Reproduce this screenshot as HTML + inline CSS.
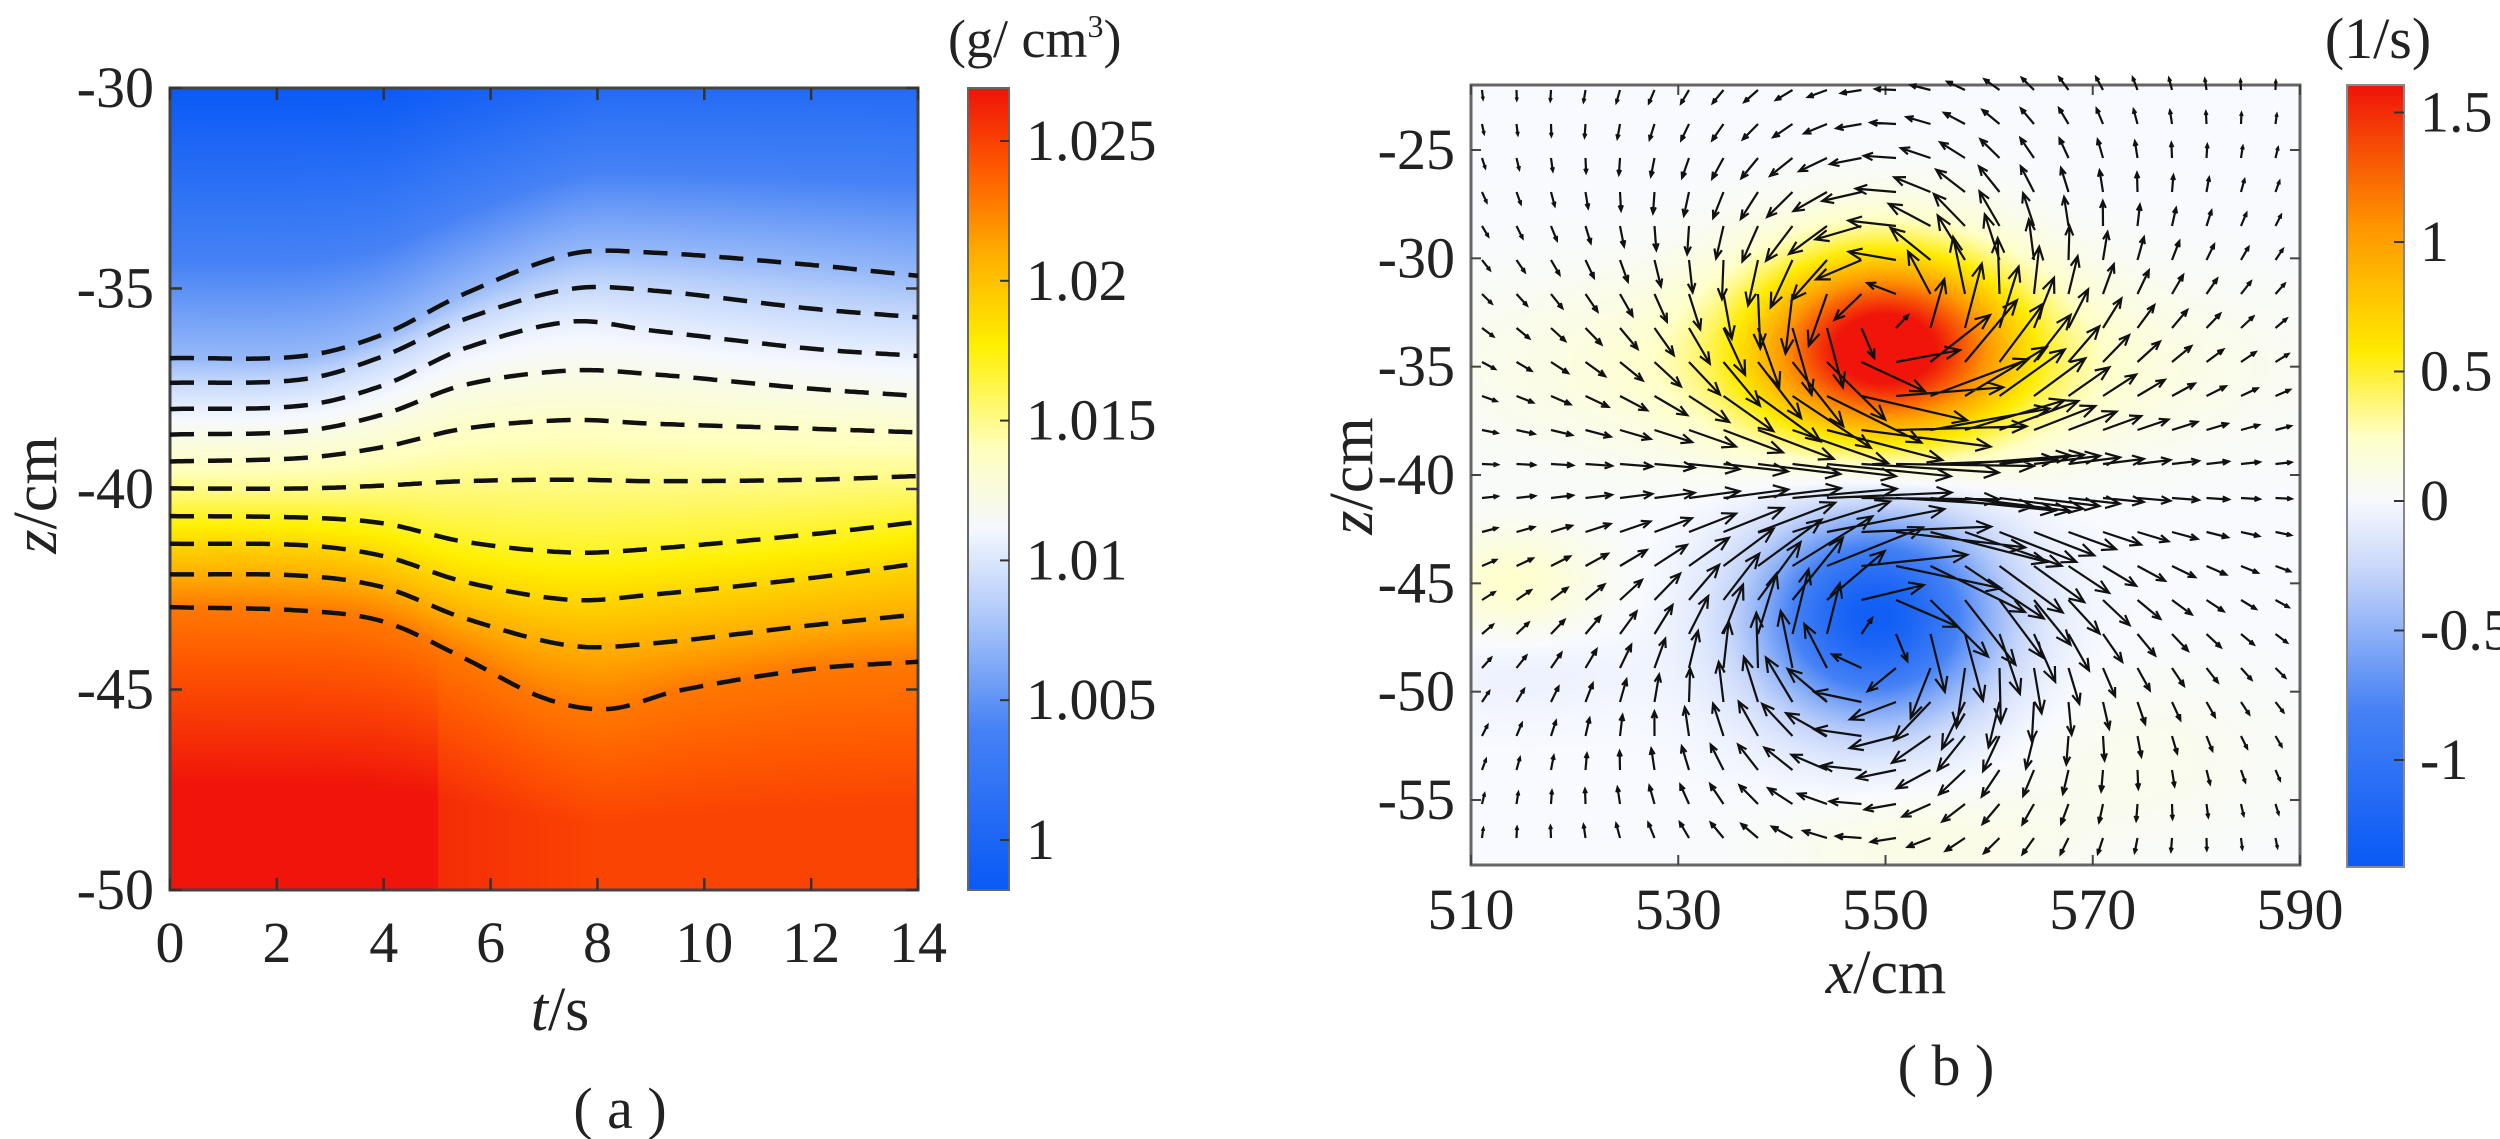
<!DOCTYPE html>
<html><head><meta charset="utf-8">
<style>
html,body{margin:0;padding:0;background:#fff;}
body{width:2500px;height:1139px;position:relative;overflow:hidden;font-family:"Liberation Serif",serif;color:#222;}
canvas{position:absolute;}
svg{position:absolute;left:0;top:0;}
svg text{font-family:"Liberation Serif",serif;fill:#222;}
</style></head><body>
<canvas id="c1" width="748" height="802" style="left:170px;top:88px"></canvas>
<canvas id="cb1" width="41" height="802" style="left:968px;top:88px"></canvas>
<canvas id="c2" width="829" height="780" style="left:1471px;top:85px"></canvas>
<canvas id="cb2" width="57" height="782" style="left:2347px;top:85px"></canvas>
<svg id="s" width="2500" height="1139" xmlns="http://www.w3.org/2000/svg"></svg>
<script>
function cmap(s,stops){s=Math.max(0,Math.min(1,s));for(let i=1;i<stops.length;i++){if(s<=stops[i][0]){const a=stops[i-1],b=stops[i];const f=(s-a[0])/(b[0]-a[0]);return [a[1]+(b[1]-a[1])*f,a[2]+(b[2]-a[2])*f,a[3]+(b[3]-a[3])*f];}}const l=stops[stops.length-1];return [l[1],l[2],l[3]];}
const ST1=[[0,10,90,245],[0.2,70,130,245],[0.35,180,205,250],[0.45,245,248,255],[0.55,255,255,190],[0.68,255,240,0],[0.8,255,170,0],[0.9,255,90,0],[1,240,20,10]];
const ST2=[[0,10,90,245],[0.2,70,130,245],[0.38,200,215,250],[0.47,248,250,255],[0.55,255,255,200],[0.66,255,235,0],[0.82,255,150,0],[1,240,20,10]];
const T=[0,2.5,4,5.5,7.5,9,12,14];
const L=[[493,490,460,405,350,348,365,380],[527,522,490,440,398,400,425,437],[563,558,530,480,443,455,480,490],[598,593,570,530,510,515,535,545],[635,630,615,590,578,583,590,595],[672,672,668,662,660,662,660,655],[710,712,720,745,760,755,735,718],[748,750,765,800,825,818,795,775],[790,792,808,850,888,885,860,845]];
const L10T=[0,2.5,4,5.5,7,8.2,9.5,12,14],L10=[835,840,855,905,960,975,950,920,910];
function herm(xs,ys,x){let n=xs.length;if(x<=xs[0])return ys[0];if(x>=xs[n-1])return ys[n-1];let i=0;while(x>xs[i+1])i++;const m=k=>k==0?(ys[1]-ys[0])/(xs[1]-xs[0]):k==n-1?(ys[n-1]-ys[n-2])/(xs[n-1]-xs[n-2]):(ys[k+1]-ys[k-1])/(xs[k+1]-xs[k-1]);const h=xs[i+1]-xs[i],t=(x-xs[i])/h;const t2=t*t,t3=t2*t;return (2*t3-3*t2+1)*ys[i]+(t3-2*t2+t)*h*m(i)+(-2*t3+3*t2)*ys[i+1]+(t3-t2)*h*m(i+1);}
const zy=v=>(v-122)/1.3735+88;
const lines=L.map(r=>[T,r.map(zy)]);lines.push([L10T,L10.map(zy)]);
const vals=[1.007,1.009,1.0105,1.012,1.0135,1.015,1.017,1.019,1.021,1.023];
(function(){const c=document.getElementById('c1').getContext('2d');const W=748,H=802;const im=c.createImageData(W,H);
for(let x=0;x<W;x++){const t=x/53.43;const ly=lines.map(l=>herm(l[0],l[1],t)-88);
for(let y=0;y<H;y++){let v;if(y<=ly[0]){v=1.007-(ly[0]-y)/ly[0]*(0.009-0.0025*Math.min(1,Math.max(0,(t-4)/4)));}
else if(y>=ly[9]){let f=(y-ly[9])/(H-ly[9]);let top=t<5?1.027:1.025+0.001*(1-Math.min(1,(t-5)/3));v=1.023+(top-1.023)*Math.min(1,f*1.6);if(t<5&&y>815-88)v=Math.max(v,1.0265);}
else{for(let k=0;k<9;k++){if(y<=ly[k+1]){v=vals[k]+(vals[k+1]-vals[k])*(y-ly[k])/(ly[k+1]-ly[k]);break;}}}
const col=cmap((v-0.998)/0.029,ST1);const i=(y*W+x)*4;im.data[i]=col[0];im.data[i+1]=col[1];im.data[i+2]=col[2];im.data[i+3]=255;}}
c.putImageData(im,0,0);})();
(function(){const c=document.getElementById('cb1').getContext('2d');for(let y=0;y<802;y++){const col=cmap(1-y/801,ST1);c.fillStyle=`rgb(${col[0]|0},${col[1]|0},${col[2]|0})`;c.fillRect(0,y,41,1);}})();
const X0=1471,Y0=85,PX=10.3625,PZ=21.667;
const px=x=>X0+(x-510)*PX,pz=z=>Y0+(-22-z)*PZ;
function vort(x,z){let w=1.55*Math.exp(-((x-550)**2/(2*8.5**2)+(z+34)**2/(2*3.0**2)))-1.35*Math.exp(-((x-549)**2/(2*8**2)+(z+46.5)**2/(2*3.3**2)));
w+=0.3*Math.exp(-((x-548)**2/(2*22**2)+(z+35)**2/(2*3**2)));w+=0.22*Math.exp(-((x-514)**2/(2*6**2)+(z+45)**2/(2*1.8**2)));w+=0.12*Math.exp(-((x-553)**2/(2*10**2)+(z+57)**2/(2*2**2)));w+=0.08*Math.exp(-((x-575)**2/(2*10**2)+(z+53)**2/(2*3**2)));w-=0.08*Math.exp(-((x-515)**2/(2*8**2)+(z+49)**2/(2*1.5**2)));return w;}
(function(){const c=document.getElementById('c2').getContext('2d');const W=829,H=780;const im=c.createImageData(W,H);
for(let x=0;x<W;x++){const xx=510+x/PX;for(let y=0;y<H;y++){const z=-22-y/PZ;const w=vort(xx,z);const col=cmap((w+1.42)/3.02,ST2);const i=(y*W+x)*4;im.data[i]=col[0];im.data[i+1]=col[1];im.data[i+2]=col[2];im.data[i+3]=255;}}c.putImageData(im,0,0);})();
(function(){const c=document.getElementById('cb2').getContext('2d');for(let y=0;y<782;y++){const col=cmap(1-y/781,ST2);c.fillStyle=`rgb(${col[0]|0},${col[1]|0},${col[2]|0})`;c.fillRect(0,y,57,1);}})();
let s='';
const txt=(x,y,t,a,sz)=>`<text x="${x}" y="${y}" font-size="${sz||58}" text-anchor="${a||'middle'}">${t}</text>`;
s+=`<rect x="170" y="88" width="748" height="802" fill="none" stroke="#444" stroke-width="3"/>`;
for(let t=0;t<=14;t+=2){const x=170+t*53.43;s+=`<line x1="${x}" y1="890" x2="${x}" y2="878" stroke="#333" stroke-width="2.5"/><line x1="${x}" y1="88" x2="${x}" y2="100" stroke="#333" stroke-width="2.5"/>`;s+=txt(x,962,t);}
for(let z=-30;z>=-50;z-=5){const y=88+(-30-z)*40.1;s+=`<line x1="170" y1="${y}" x2="182" y2="${y}" stroke="#333" stroke-width="2.5"/><line x1="918" y1="${y}" x2="906" y2="${y}" stroke="#333" stroke-width="2.5"/>`;s+=txt(154,y+19,z,'end');}
lines.forEach(l=>{let d='';for(let x=0;x<=748;x+=4){const y=herm(l[0],l[1],x/53.43);d+=(x?'L':'M')+(170+x)+' '+y.toFixed(1);}s+=`<path d="${d}" fill="none" stroke="#111" stroke-width="4.5" stroke-dasharray="24 14"/>`;});
s+=`<text x="560" y="1030" font-size="62" text-anchor="middle"><tspan font-style="italic">t</tspan>/s</text>`;
s+=`<text transform="translate(56,495) rotate(-90)" font-size="62" text-anchor="middle"><tspan font-style="italic">z</tspan>/cm</text>`;
s+=txt(620,1128,'( a )','middle',58);
s+=`<rect x="968" y="88" width="41" height="802" fill="none" stroke="#666" stroke-width="2"/>`;
[1,1.005,1.01,1.015,1.02,1.025].forEach(v=>{const y=840-(v-1)/0.005*139.8;s+=`<line x1="1009" y1="${y}" x2="1000" y2="${y}" stroke="#333" stroke-width="2"/>`;s+=txt(1026,y+19,String(v),'start');});
s+=`<text x="948" y="57" font-size="54">(g/ cm<tspan font-size="32" dy="-20">3</tspan><tspan dy="20">)</tspan></text>`;
s+=`<rect x="1471" y="85" width="829" height="780" fill="none" stroke="#666" stroke-width="3"/>`;
for(let x=510;x<=590;x+=20){const X=px(x);s+=`<line x1="${X}" y1="865" x2="${X}" y2="855" stroke="#444" stroke-width="2"/><line x1="${X}" y1="85" x2="${X}" y2="95" stroke="#444" stroke-width="2"/>`;s+=txt(X,929,x);}
for(let z=-25;z>=-55;z-=5){const Y=pz(z);s+=`<line x1="1471" y1="${Y}" x2="1481" y2="${Y}" stroke="#444" stroke-width="2"/><line x1="2300" y1="${Y}" x2="2290" y2="${Y}" stroke="#444" stroke-width="2"/>`;s+=txt(1455,Y+19,z,'end');}
const V=[[1885,345,1],[1875,616,-1]];const G=72000,RC=85;
let ar='';
for(let gx=1482;gx<2300;gx+=34.5){for(let gy=90;gy<865;gy+=34){let u=0,w=0;V.forEach(v=>{const dx=gx-v[0],dy=gy-v[1];const r2=dx*dx+dy*dy+1;const f=v[2]*G/(2*Math.PI*r2)*(1-Math.exp(-r2/(RC*RC)));u+=f*dy;w+=-f*dx;});
let sp=Math.hypot(u,w);let sc=0.9;if(sp*sc>175)sc=175/sp;const ex=gx+u*sc,ey=gy+w*sc;const len=sp*sc;
if(len<3){ar+=`M${gx} ${gy}l1 0`;continue;}const hl=Math.min(16,len*0.3),ang=Math.atan2(ey-gy,ex-gx);
ar+=`M${gx.toFixed(1)} ${gy.toFixed(1)}L${ex.toFixed(1)} ${ey.toFixed(1)}M${(ex-hl*Math.cos(ang-0.4)).toFixed(1)} ${(ey-hl*Math.sin(ang-0.4)).toFixed(1)}L${ex.toFixed(1)} ${ey.toFixed(1)}L${(ex-hl*Math.cos(ang+0.4)).toFixed(1)} ${(ey-hl*Math.sin(ang+0.4)).toFixed(1)}`;}}
s+=`<path d="${ar}" fill="none" stroke="#111" stroke-width="2.2"/>`;
s+=`<text x="1886" y="993" font-size="62" text-anchor="middle"><tspan font-style="italic">x</tspan>/cm</text>`;
s+=`<text transform="translate(1372,476) rotate(-90)" font-size="62" text-anchor="middle"><tspan font-style="italic">z</tspan>/cm</text>`;
s+=txt(1946,1085,'( b )','middle',58);
s+=`<rect x="2347" y="85" width="57" height="782" fill="none" stroke="#888" stroke-width="2"/>`;
[1.5,1,0.5,0,-0.5,-1].forEach(v=>{const y=501-v*259;s+=`<line x1="2404" y1="${y}" x2="2394" y2="${y}" stroke="#333" stroke-width="2"/>`;s+=txt(2420,y+19,String(v),'start');});
s+=txt(2378,58,'(1/s)','middle',58);
document.getElementById('s').innerHTML=s;
</script>
</body></html>
